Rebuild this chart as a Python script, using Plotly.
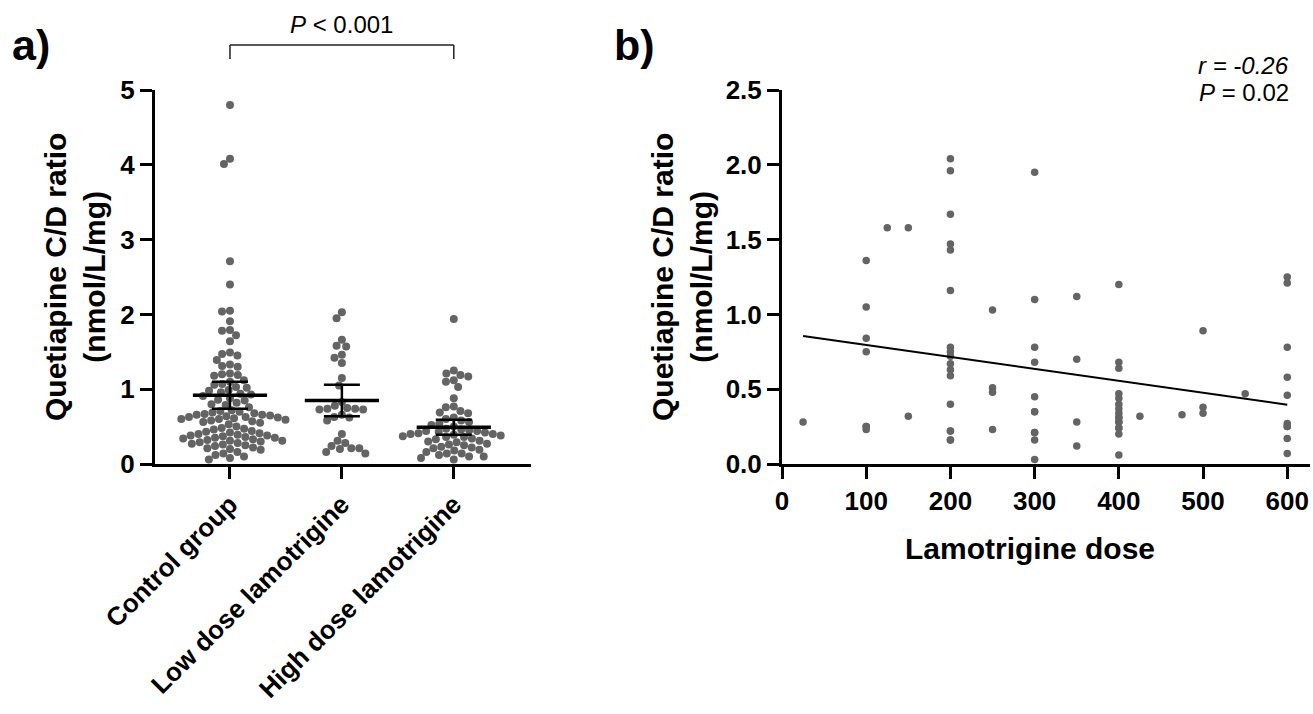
import numpy as np
import plotly.graph_objects as go

# ---------------- data ----------------
categories = ["Control group", "Low dose lamotrigine", "High dose lamotrigine"]

control = [4.80, 4.08, 4.01, 2.71, 2.40, 2.05, 2.04, 1.91, 1.79, 1.78, 1.72, 1.64,
           1.49, 1.47, 1.45, 1.39, 1.33, 1.31, 1.30, 1.21, 1.20, 1.19, 1.18,
           1.12, 1.10, 1.07, 1.06, 1.03, 1.02, 0.99, 0.98, 0.96, 0.94, 0.93, 0.91,
           0.88, 0.86, 0.85, 0.82, 0.80, 0.79, 0.76,
           0.72, 0.71, 0.70, 0.69, 0.68, 0.67, 0.66, 0.66, 0.65, 0.64, 0.63, 0.63,
           0.62, 0.61, 0.60, 0.60, 0.59, 0.58, 0.57, 0.56, 0.55,
           0.53, 0.50, 0.48, 0.47, 0.46, 0.44, 0.43,
           0.42, 0.41, 0.40, 0.39, 0.38, 0.38, 0.37, 0.36, 0.35, 0.35, 0.34, 0.33,
           0.32, 0.31, 0.31, 0.30, 0.29, 0.28, 0.27, 0.26, 0.25,
           0.24, 0.22, 0.21, 0.20, 0.19, 0.16, 0.14, 0.12, 0.10, 0.08, 0.06]

low_dose = [2.03, 1.95, 1.66, 1.58, 1.57, 1.46, 1.42, 1.35, 1.15, 1.05,
            0.83, 0.78, 0.75, 0.74, 0.74, 0.73, 0.73, 0.66, 0.63, 0.62, 0.58,
            0.40, 0.31, 0.28, 0.24, 0.21, 0.21, 0.20, 0.16, 0.14]

high_dose = [1.94, 1.25, 1.21, 1.19, 1.17, 1.12, 1.10, 1.03, 0.88, 0.77, 0.76,
             0.71, 0.69, 0.68,
             0.62, 0.60, 0.58, 0.56, 0.54, 0.52, 0.50,
             0.47, 0.46, 0.45, 0.44, 0.44, 0.43, 0.42, 0.41, 0.40, 0.40, 0.39, 0.38,
             0.37, 0.36, 0.36, 0.34,
             0.33, 0.31, 0.30, 0.29, 0.27, 0.26, 0.25, 0.23, 0.22, 0.21, 0.19, 0.18,
             0.16, 0.14, 0.14, 0.12, 0.10, 0.10, 0.08, 0.06]

group_means = [0.92, 0.85, 0.49]
group_err = [0.18, 0.21, 0.10]

dose = [25,
        100, 100, 100, 100, 100, 100, 100,
        125,
        150, 150,
        200, 200, 200, 200, 200, 200, 200, 200, 200, 200, 200, 200, 200, 200, 200, 200, 200,
        250, 250, 250, 250,
        300, 300, 300, 300, 300, 300, 300, 300, 300, 300, 300,
        350, 350, 350, 350,
        400, 400, 400, 400, 400, 400, 400, 400, 400, 400, 400, 400, 400, 400, 400, 400,
        425,
        475,
        500, 500, 500,
        550,
        600, 600, 600, 600, 600, 600, 600, 600, 600, 600]

ratio = [0.28,
         1.36, 1.05, 0.84, 0.75, 0.25, 0.25, 0.23,
         1.58,
         1.58, 0.32,
         2.04, 1.96, 1.67, 1.47, 1.43, 1.16, 0.78, 0.75, 0.72, 0.67, 0.63, 0.59, 0.40, 0.22, 0.22, 0.16, 0.16,
         1.03, 0.51, 0.48, 0.23,
         1.95, 1.10, 0.78, 0.68, 0.45, 0.35, 0.35, 0.21, 0.21, 0.16, 0.03,
         1.12, 0.70, 0.28, 0.12,
         1.20, 0.68, 0.64, 0.47, 0.44, 0.40, 0.37, 0.34, 0.31, 0.31, 0.28, 0.28, 0.24, 0.24, 0.20, 0.06,
         0.32,
         0.33,
         0.89, 0.38, 0.34,
         0.47,
         1.25, 1.21, 0.78, 0.58, 0.46, 0.27, 0.25, 0.25, 0.17, 0.07]

stat_a = "<i>P</i> < 0.001"
stat_r = "<i>r = -0.26</i>"
stat_p = "<i>P</i> = 0.02"

# ---------------- geometry helpers ----------------
W, H = 1313, 714
FONT = "Arial, Liberation Sans, Helvetica, sans-serif"
DOT = "#646464"

ax_a = (155, 531)     # pixel x-extent panel a
ax_b = (782, 1310)    # pixel x-extent panel b
y_top, y_bot = 90, 464
xr_a = [-0.67, 2.69]
yr_a = [0, 5]
px_per_x = (ax_a[1] - ax_a[0]) / (xr_a[1] - xr_a[0])
px_per_y = (y_bot - y_top) / (yr_a[1] - yr_a[0])


def swarm(values, diam):
    ys = np.array(values, dtype=float) * px_per_y
    order = np.argsort(-ys)
    placed = []
    offs = np.zeros(len(ys))
    for i in order:
        y = ys[i]
        ints = []
        for xj, yj in placed:
            dy = abs(y - yj)
            if dy < diam:
                h = np.sqrt(diam ** 2 - dy ** 2)
                ints.append((xj - h, xj + h))
        cands = [0.0] + [a for a, b in ints] + [b for a, b in ints]
        cands.sort(key=lambda c: (abs(c), c))
        for c in cands:
            if all(not (a + 1e-6 < c < b - 1e-6) for a, b in ints):
                offs[i] = c
                break
        placed.append((offs[i], y))
    return offs / px_per_x


fig = go.Figure()

for gi, vals in enumerate([control, low_dose, high_dose]):
    offs = swarm(vals, 8.0)
    fig.add_trace(go.Scatter(
        x=gi + offs, y=vals, mode="markers",
        marker=dict(size=8, color=DOT, line=dict(width=0)),
        xaxis="x", yaxis="y", showlegend=False, cliponaxis=False,
        hoverinfo="y"))

fig.add_trace(go.Scatter(
    x=list(range(len(categories))), y=group_means, mode="markers",
    marker=dict(symbol="line-ew", size=53, color="black",
                line=dict(width=3.5, color="black")),
    error_y=dict(type="data", array=group_err, width=18, thickness=2.5, color="black"),
    xaxis="x", yaxis="y", showlegend=False, cliponaxis=False))

# panel b
fig.add_trace(go.Scatter(
    x=dose, y=ratio, mode="markers",
    marker=dict(size=7.5, color=DOT, line=dict(width=0)),
    xaxis="x2", yaxis="y2", showlegend=False, cliponaxis=False))

slope, intercept = np.polyfit(np.array(dose, float), np.array(ratio, float), 1)
xfit = np.array([min(dose), max(dose)], dtype=float)
fig.add_trace(go.Scatter(
    x=xfit, y=intercept + slope * xfit, mode="lines",
    line=dict(color="black", width=2),
    xaxis="x2", yaxis="y2", showlegend=False, hoverinfo="skip"))

axis_common = dict(showline=True, linewidth=3, linecolor="black", ticks="outside",
                   ticklen=12, tickwidth=3, tickcolor="black", showgrid=False,
                   zeroline=False, automargin=False,
                   tickfont=dict(family=FONT, size=26, color="black", weight="bold"))

ydom = [1 - y_bot / H, 1 - y_top / H]

fig.update_layout(
    width=W, height=H, margin=dict(l=0, r=0, t=0, b=0, autoexpand=False),
    paper_bgcolor="white", plot_bgcolor="white",
    xaxis=dict(domain=[ax_a[0] / W, ax_a[1] / W], range=xr_a, anchor="y",
               tickvals=list(range(len(categories))), ticktext=categories,
               tickangle=-45, **axis_common),
    yaxis=dict(domain=ydom, range=yr_a, anchor="x", dtick=1, tick0=0, **axis_common),
    xaxis2=dict(domain=[ax_b[0] / W, ax_b[1] / W], range=[0, 627], anchor="y2",
                dtick=100, tick0=0, **axis_common),
    yaxis2=dict(domain=ydom, range=[0, 2.5], anchor="x2", dtick=0.5, tick0=0,
                tickformat=".1f", **axis_common),
)

# bracket
yb1, yb0 = 1 - 45 / H, 1 - 59 / H
for (x0, y0, x1, y1) in [(0, yb0, 0, yb1), (0, yb1, 2, yb1), (2, yb1, 2, yb0)]:
    fig.add_shape(type="line", xref="x", yref="paper", x0=x0, y0=y0, x1=x1, y1=y1,
                  line=dict(color="#222222", width=1.5))

bold = dict(family=FONT, color="black", weight="bold")
reg = dict(family=FONT, color="black", size=24)
ann = [
    dict(text="a)", x=10 / W, y=1 - 45 / H, xanchor="left", yanchor="middle",
         font=dict(size=43, **bold)),
    dict(text="b)", x=612 / W, y=1 - 45 / H, xanchor="left", yanchor="middle",
         font=dict(size=43, **bold)),
    dict(text="Quetiapine C/D ratio<br>(nmol/L/mg)", x=75 / W, y=1 - 277 / H,
         textangle=-90, xanchor="center", yanchor="middle", font=dict(size=30, **bold)),
    dict(text="Quetiapine C/D ratio<br>(nmol/L/mg)", x=682 / W, y=1 - 277 / H,
         textangle=-90, xanchor="center", yanchor="middle", font=dict(size=30, **bold)),
    dict(text="Lamotrigine dose", x=1030 / W, y=1 - 548 / H, xanchor="center",
         yanchor="middle", font=dict(size=30, **bold)),
    dict(text=stat_r, x=1291 / W, y=1 - 65 / H, xanchor="right", yanchor="middle",
         font=reg),
    dict(text=stat_p, x=1291 / W, y=1 - 93 / H, xanchor="right", yanchor="middle",
         font=reg),
]
for a in ann:
    fig.add_annotation(xref="paper", yref="paper", showarrow=False, **a)
fig.add_annotation(xref="x", yref="paper", x=1, y=1 - 25 / H, text=stat_a,
                   showarrow=False, xanchor="center", yanchor="middle", font=reg)

fig.write_html("out.html", config={"displayModeBar": False},
               post_script="document.body.style.margin='0';document.body.style.overflow='hidden';")
